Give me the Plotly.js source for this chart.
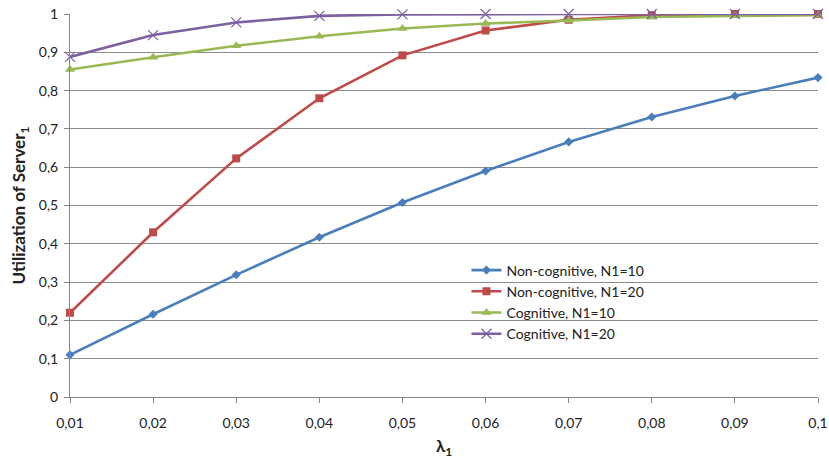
<!DOCTYPE html>
<html><head><meta charset="utf-8">
<script src="https://cdn.plot.ly/plotly-3.0.1.min.js"></script>
<style>body{margin:0;background:#fff}#c{width:829px;height:459px}</style>
</head><body><div id="c"></div>
<script>
const lambda = [0.01,0.02,0.03,0.04,0.05,0.06,0.07,0.08,0.09,0.1];
const xTickText = ['0,01','0,02','0,03','0,04','0,05','0,06','0,07','0,08','0,09','0,1'];
const yTickVals = [0,0.1,0.2,0.3,0.4,0.5,0.6,0.7,0.8,0.9,1];
const yTickText = ['0','0,1','0,2','0,3','0,4','0,5','0,6','0,7','0,8','0,9','1'];
const nonCog10 = [0.110,0.216,0.319,0.417,0.508,0.590,0.666,0.731,0.786,0.834];
const nonCog20 = [0.220,0.430,0.623,0.780,0.892,0.957,0.985,0.997,1.000,1.000];
const cog10 = [0.855,0.887,0.917,0.942,0.962,0.975,0.983,0.992,0.995,0.997];
const cog20 = [0.888,0.945,0.978,0.995,0.999,1.000,1.000,1.000,1.000,1.000];
const names = ['Non-cognitive, N1=10','Non-cognitive, N1=20','Cognitive, N1=10','Cognitive, N1=20'];

const mk = (y,name,color,symbol,size,lc,lw) => ({
  x: lambda, y: y, name: name, type:'scatter', mode:'lines+markers', cliponaxis:false,
  line:{color:color,width:2.6},
  marker:{color:color,symbol:symbol,size:size,line:{color:lc||color,width:lw===undefined?0:lw}}
});

const data = [
  mk(nonCog10,names[0],'#4a7ebb','diamond',7),
  mk(nonCog20,names[1],'#be4b48','square',8),
  mk(cog10,names[2],'#98b954','triangle-up',9),
  mk(cog20,names[3],'#7d60a0','x-thin-open',10,'#9a86c0',1.2)
];

const layout = {
  width:829, height:459,
  margin:{l:70,r:11,t:14,b:62},
  paper_bgcolor:'#fff', plot_bgcolor:'#fff',
  font:{family:'Lato, "Open Sans", sans-serif', size:14, color:'#222'},
  showlegend:true,
  legend:{x:0.53,y:0.372,xanchor:'left',yanchor:'top',bgcolor:'rgba(0,0,0,0)',
    font:{size:14,color:'#222'},tracegroupgap:0,itemwidth:30},
  xaxis:{range:[0.01,0.1],tickvals:lambda,ticktext:xTickText,showgrid:false,zeroline:false,
    showline:true,linecolor:'#868686',linewidth:1,ticks:'outside',tickcolor:'#868686',ticklen:5,
    ticklabelstandoff:8,tickfont:{size:14},
    title:{text:'<b>λ<sub>1</sub></b>',font:{size:17},standoff:10}},
  yaxis:{range:[0,1],tickvals:yTickVals,ticktext:yTickText,showgrid:true,gridcolor:'#8c8c8c',gridwidth:1,
    zeroline:false,showline:true,linecolor:'#868686',linewidth:1,ticks:'outside',tickcolor:'#868686',ticklen:5,
    ticklabelstandoff:3,tickfont:{size:14},
    title:{text:'<b>Utilization of Server<sub>1</sub></b>',font:{size:17},standoff:8}}
};
Plotly.newPlot('c',data,layout,{displayModeBar:false,staticPlot:true});
</script></body></html>
